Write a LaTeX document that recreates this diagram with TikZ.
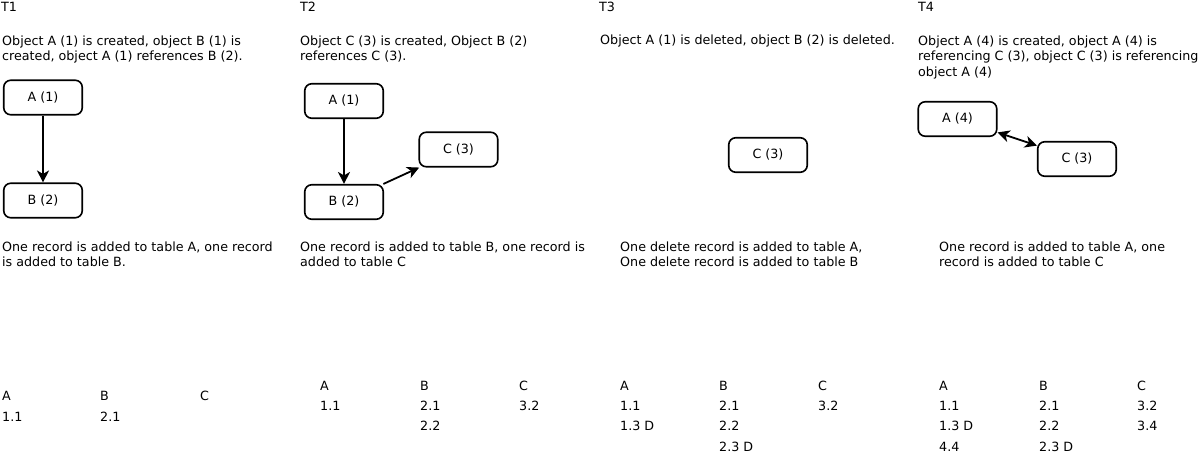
\documentclass[tikz,border=0pt]{standalone}
\usepackage{fontspec}
\setmainfont{DejaVu Sans}
\usetikzlibrary{arrows.meta}
\begin{document}
\begin{tikzpicture}[x=1pt,y=-1pt,
  every node/.style={font=\fontsize{12.7}{15.5}\selectfont},
  txt/.style={anchor=base west,inner sep=0pt,align=left},
  mtxt/.style={anchor=north west,inner sep=0pt,align=left},
  obj/.style={draw,line width=1.6pt,rounded corners=7pt,minimum width=78.5pt,minimum height=34.5pt,inner sep=0pt},
  tip/.tip={Stealth[length=12pt,width=12pt,inset=3.5pt]},
  ref/.style={line width=1.8pt,-tip},
  dref/.style={line width=1.8pt,tip-tip}]
\useasboundingbox (0,0) rectangle (1203,454);
% titles
\node[txt] (t1) at (1,12) {T1};
\node[txt] (t2) at (300,12) {T2};
\node[txt] (t3) at (599,12) {T3};
\node[txt] (t4) at (918,12) {T4};
% descriptions (top = first baseline - 9.6)
\node[mtxt] (d1) at (2,35.4) {Object A (1) is created, object B (1) is\\created, object A (1) references B (2).};
\node[mtxt] (d2) at (300,35.4) {Object C (3) is created, Object B (2)\\references C (3).};
\node[txt] (d3) at (600,45) {Object A (1) is deleted, object B (2) is deleted.};
\node[mtxt] (d4) at (918,35.4) {Object A (4) is created, object A (4) is\\referencing C (3), object C (3) is referencing\\object A (4)};
% objects
\node[obj] (a1) at (43,97.5) {A (1)};
\node[obj] (b1) at (43,200.5) {B (2)};
\draw[ref] (a1) -- (b1);
\node[obj] (a2) at (344,101) {A (1)};
\node[obj] (b2) at (344,202) {B (2)};
\node[obj] (c2) at (458.5,149.5) {C (3)};
\draw[ref] (a2) -- (b2);
\draw[ref] (b2) -- (c2);
\node[obj] (c3) at (768,155) {C (3)};
\node[obj] (a4) at (957.5,119) {A (4)};
\node[obj] (c4) at (1077,159) {C (3)};
\draw[dref] (a4) -- (c4);
% record texts
\node[mtxt] (r1) at (2,241.4) {One record is added to table A, one record\\is added to table B.};
\node[mtxt] (r2) at (300,241.4) {One record is added to table B, one record is\\added to table C};
\node[mtxt] (r3) at (620,241.4) {One delete record is added to table A,\\One delete record is added to table B};
\node[mtxt] (r4) at (939,241.4) {One record is added to table A, one\\record is added to table C};
% tables T1
\node[txt] (ta1) at (2,400.5) {A};
\node[txt] (tb1) at (100,400.5) {B};
\node[txt] (tc1) at (200,400.5) {C};
\node[txt] at (2,421) {1.1};
\node[txt] at (100,421) {2.1};
% tables T2
\node[txt] (ta2) at (320,390.5) {A};
\node[txt] (tb2) at (420,390.5) {B};
\node[txt] (tc2) at (519,390.5) {C};
\node[txt] at (320,411) {1.1};
\node[txt] at (420,411) {2.1};
\node[txt] at (519,411) {3.2};
\node[txt] at (420,431) {2.2};
% tables T3
\node[txt] (ta3) at (620,390.5) {A};
\node[txt] (tb3) at (719,390.5) {B};
\node[txt] (tc3) at (818,390.5) {C};
\node[txt] at (620,411) {1.1};
\node[txt] at (719,411) {2.1};
\node[txt] at (818,411) {3.2};
\node[txt] at (620,431) {1.3 D};
\node[txt] at (719,431) {2.2};
\node[txt] at (719,451.5) {2.3 D};
% tables T4
\node[txt] (ta4) at (939,390.5) {A};
\node[txt] (tb4) at (1039,390.5) {B};
\node[txt] (tc4) at (1137,390.5) {C};
\node[txt] at (939,411) {1.1};
\node[txt] at (1039,411) {2.1};
\node[txt] at (1137,411) {3.2};
\node[txt] at (939,431) {1.3 D};
\node[txt] at (1039,431) {2.2};
\node[txt] at (1137,431) {3.4};
\node[txt] at (939,451.5) {4.4};
\node[txt] at (1039,451.5) {2.3 D};
\end{tikzpicture}
\end{document}
